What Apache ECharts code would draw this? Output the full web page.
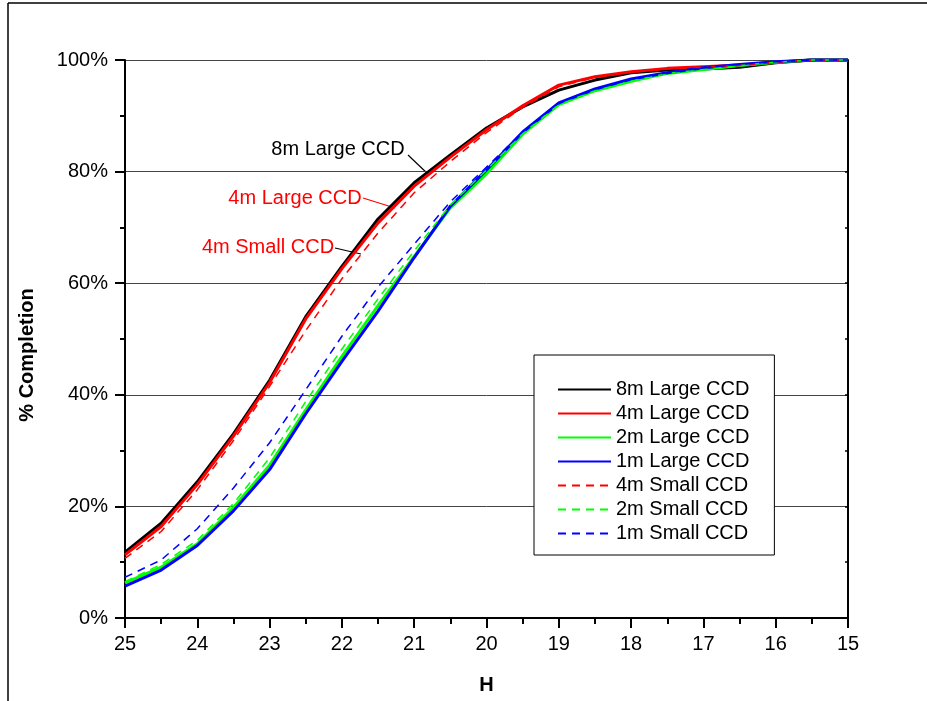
<!doctype html>
<html>
<head>
<meta charset="utf-8">
<title>% Completion vs H</title>
<script src="https://cdn.jsdelivr.net/npm/echarts@6/dist/echarts.min.js"></script>
<style>
  html, body { margin: 0; padding: 0; background: #fff; }
  #main { width: 927px; height: 701px; }
</style>
</head>
<body>
<div id="main"></div>
<script>
// H magnitude (x axis runs 25 -> 15)
var hValues = [25, 24.5, 24, 23.5, 23, 22.5, 22, 21.5, 21, 20.5, 20, 19.5, 19, 18.5, 18, 17.5, 17, 16.5, 16, 15.5, 15];

// % completion per survey config
var large8m = [11.8, 17.0, 24.4, 33.0, 42.6, 54.0, 63.0, 71.5, 78.0, 83.0, 87.8, 91.6, 94.6, 96.4, 97.7, 98.2, 98.4, 98.7, 99.5, 100, 100];
var large4m = [11.3, 16.4, 23.9, 32.6, 42.2, 53.6, 62.6, 70.8, 77.4, 82.6, 87.5, 91.8, 95.5, 97.0, 97.9, 98.5, 98.8, 99.1, 99.6, 100, 100];
var large2m = [6.3, 9.1, 13.3, 19.8, 27.4, 37.3, 46.9, 56.0, 64.8, 73.5, 79.6, 86.7, 92.0, 94.5, 96.2, 97.6, 98.3, 99.0, 99.6, 100, 100];
var large1m = [5.7, 8.6, 13.0, 19.2, 26.6, 36.6, 46.0, 55.0, 64.6, 73.8, 80.3, 87.1, 92.3, 94.8, 96.6, 97.7, 98.6, 99.2, 99.7, 100, 100];
var small4m = [10.7, 15.5, 23.0, 31.8, 41.5, 51.5, 60.8, 69.0, 76.2, 81.8, 87.0, 91.5, 95.2, 96.9, 97.8, 98.4, 98.7, 99.0, 99.6, 100, 100];
var small2m = [6.5, 9.6, 13.9, 20.5, 28.7, 38.8, 48.2, 57.2, 65.8, 74.0, 80.3, 86.8, 92.0, 94.5, 96.2, 97.6, 98.3, 99.0, 99.6, 100, 100];
var small1m = [7.3, 10.4, 16.0, 23.3, 31.4, 40.9, 50.5, 59.3, 67.0, 74.6, 80.8, 87.1, 92.3, 94.8, 96.6, 97.7, 98.6, 99.2, 99.7, 100, 100];

var yTicks = [0, 20, 40, 60, 80, 100];

var FONT = 'Liberation Sans, Arial, sans-serif';

function pairs(vals) {
    var out = [];
    for (var i = 0; i < hValues.length; i++) {
        out.push([hValues[i], vals[i]]);
    }
    return out;
}

function lineSeries(name, vals, color, dashed) {
    return {
        name: name,
        type: 'line',
        data: pairs(vals),
        symbol: 'none',
        clip: false,
        silent: true,
        lineStyle: {
            color: color,
            width: dashed ? 1.5 : 3,
            type: dashed ? [8, 6] : 'solid'
        },
        itemStyle: { color: color }
    };
}

var myChart = echarts.init(document.getElementById('main'));

var option = {
    backgroundColor: '#fff',
    animation: false,
    textStyle: { fontFamily: FONT },
    grid: { left: 125, right: 79, top: 60, bottom: 83 },
    legend: {
        orient: 'vertical',
        left: 534,
        top: 355,
        padding: [23, 25, 10, 23],
        itemWidth: 53,
        itemHeight: 14,
        itemGap: 1,
        backgroundColor: '#fff',
        borderColor: '#000',
        borderWidth: 1,
        itemStyle: { opacity: 0 },
        textStyle: { fontSize: 20, color: '#000', fontFamily: FONT, lineHeight: 23 },
        data: ['8m Large CCD', '4m Large CCD', '2m Large CCD', '1m Large CCD',
               '4m Small CCD', '2m Small CCD', '1m Small CCD']
    },
    xAxis: [
        {
            type: 'value',
            inverse: true,
            min: 15,
            max: 25,
            interval: 1,
            name: 'H',
            nameLocation: 'middle',
            nameGap: 57,
            nameTextStyle: { fontSize: 20, fontWeight: 'bold', color: '#000', fontFamily: FONT },
            axisLine: { lineStyle: { color: '#000', width: 2 } },
            axisTick: { inside: false, length: 10, lineStyle: { color: '#000', width: 2 } },
            minorTick: { show: true, splitNumber: 2, length: 6, lineStyle: { color: '#000', width: 2 } },
            axisLabel: { fontSize: 20, color: '#000', margin: 16, fontFamily: FONT },
            splitLine: { show: false }
        },
        {
            type: 'value',
            inverse: true,
            position: 'top',
            min: 15,
            max: 25,
            interval: 1,
            axisLine: { lineStyle: { color: '#000', width: 2 } },
            axisTick: { inside: true, length: 3, lineStyle: { color: '#000', width: 1.5 } },
            minorTick: { show: true, splitNumber: 2, length: 3, lineStyle: { color: '#000', width: 1.5 } },
            axisLabel: { show: false },
            splitLine: { show: false }
        }
    ],
    yAxis: [
        {
            type: 'value',
            min: 0,
            max: 100,
            interval: 20,
            axisLine: { show: true, lineStyle: { color: '#000', width: 2 } },
            axisTick: { show: true, inside: false, length: 10, lineStyle: { color: '#000', width: 2 } },
            minorTick: { show: true, splitNumber: 2, length: 5, lineStyle: { color: '#000', width: 2 } },
            axisLabel: {
                fontSize: 20, color: '#000', margin: 17, fontFamily: FONT,
                formatter: function (v) { return yTicks.indexOf(v) >= 0 ? v + '%' : ''; }
            },
            splitLine: { show: true, lineStyle: { color: '#444', width: 1 } }
        },
        {
            type: 'value',
            position: 'right',
            min: 0,
            max: 100,
            interval: 20,
            axisLine: { show: true, lineStyle: { color: '#000', width: 2 } },
            axisTick: { show: true, inside: true, length: 3, lineStyle: { color: '#000', width: 1.5 } },
            minorTick: { show: true, splitNumber: 2, length: 3, lineStyle: { color: '#000', width: 1.5 } },
            axisLabel: { show: false },
            splitLine: { show: false }
        }
    ],
    series: [
        lineSeries('8m Large CCD', large8m, '#000000', false),
        lineSeries('4m Large CCD', large4m, '#ff0000', false),
        lineSeries('2m Large CCD', large2m, '#00ff00', false),
        lineSeries('1m Large CCD', large1m, '#0000ff', false),
        lineSeries('4m Small CCD', small4m, '#ff0000', true),
        lineSeries('2m Small CCD', small2m, '#00ff00', true),
        lineSeries('1m Small CCD', small1m, '#0000ff', true)
    ],
    graphic: [
        // outer frame (left + top)
        { type: 'line', shape: { x1: 8, y1: 3, x2: 8, y2: 701 }, style: { stroke: '#000', lineWidth: 1.5 } },
        { type: 'line', shape: { x1: 8, y1: 3, x2: 927, y2: 3 }, style: { stroke: '#000', lineWidth: 1.5 } },
        // y axis title
        { type: 'text', x: 27, y: 355, rotation: Math.PI / 2,
          style: { text: '% Completion', x: 0, y: 0, align: 'center', verticalAlign: 'middle', fontSize: 20, fontWeight: 'bold', fontFamily: FONT, fill: '#000' } },
        // curve labels
        { type: 'text', style: { text: '8m Large CCD', x: 338, y: 149, align: 'center', verticalAlign: 'middle', fontSize: 20, fontFamily: FONT, fill: '#000' } },
        { type: 'line', shape: { x1: 408, y1: 155, x2: 429, y2: 175 }, style: { stroke: '#000', lineWidth: 1.2 } },
        { type: 'text', style: { text: '4m Large CCD', x: 295, y: 198, align: 'center', verticalAlign: 'middle', fontSize: 20, fontFamily: FONT, fill: '#ff0000' } },
        { type: 'line', shape: { x1: 363, y1: 198, x2: 395, y2: 208 }, style: { stroke: '#ff0000', lineWidth: 1.2 } },
        { type: 'text', style: { text: '4m Small CCD', x: 268, y: 247, align: 'center', verticalAlign: 'middle', fontSize: 20, fontFamily: FONT, fill: '#ff0000' } },
        { type: 'line', shape: { x1: 335, y1: 248, x2: 361, y2: 254 }, style: { stroke: '#000', lineWidth: 1.2 } }
    ]
};

myChart.setOption(option);
</script>
</body>
</html>
